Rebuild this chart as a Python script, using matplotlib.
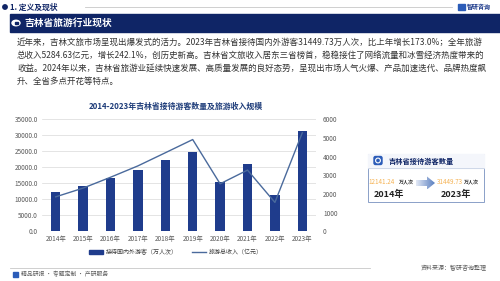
import matplotlib
matplotlib.use('Agg')
import matplotlib.pyplot as plt
import numpy as np
from matplotlib.patches import Rectangle, FancyBboxPatch, Polygon, Circle, Ellipse
from matplotlib.lines import Line2D

plt.rcParams['font.family'] = ['Noto Sans CJK SC', 'DejaVu Sans']

years = ['2014年', '2015年', '2016年', '2017年', '2018年',
         '2019年', '2020年', '2021年', '2022年', '2023年']
visitors = [12141.24, 14131.03, 16578.7, 19241.3, 22156.9,
            24833.0, 15305.0, 21039.0, 11458.0, 31449.73]
revenue = [1846.79, 2315.17, 2897.37, 3507.13, 4210.89,
           4920.38, 2546.0, 3281.28, 1548.0, 5284.63]

visitor_name = '接待国内外游客（万人次）'
revenue_name = '旅游总收入（亿元）'
chart_title = '2014-2023年吉林省接待游客数量及旅游收入规模'
box_title = '吉林省接待游客数量'
first_value, last_value = '12141.24', '31449.73'
first_year, last_year = '2014年', '2023年'

para = [
    '近年来，吉林文旅市场呈现出爆发式的活力。2023年吉林省接待国内外游客31449.73万人次，比上年增长173.0%；全年旅游',
    '总收入5284.63亿元，增长242.1%，创历史新高。吉林省文旅收入居东三省榜首，稳稳接住了网络流量和冰雪经济热度带来的',
    '收益。2024年以来，吉林省旅游业延续快速发展、高质量发展的良好态势，呈现出市场人气火爆、产品加速迭代、品牌热度飙',
    '升、全省多点开花等特点。',
]

NAVY = '#0f2566'
BAR = '#1f3c8c'
LINE = '#4a6a9c'
GRAY = '#595959'

fig = plt.figure(figsize=(5, 2.81), dpi=100)
fig.patch.set_facecolor('white')

# page decoration in pixel coordinates
deco = fig.add_axes([0, 0, 1, 1], zorder=0)
deco.set_xlim(0, 500)
deco.set_ylim(281, 0)
deco.axis('off')

deco.add_patch(Circle((5, 7), 2.2, color=NAVY))
deco.text(10, 7, '1. 定义及现状', fontsize=5.6, fontweight='bold', color=NAVY, va='center')
deco.plot([85, 452], [6.8, 6.8], color='#c8c8c8', lw=0.6)
deco.add_patch(Rectangle((458, 3.5), 7, 6, color='#2b5cb8'))
deco.text(467, 6.5, '智研咨询', fontsize=4.3, fontweight='bold', color='#1f3c8c', va='center')

deco.add_patch(Rectangle((10, 14), 490, 18, color=NAVY))
deco.add_patch(Ellipse((16, 23), 8, 5.5, color='white'))
deco.add_patch(Rectangle((14.5, 21.8), 3, 2.4, color=NAVY))
deco.text(24, 23, '吉林省旅游行业现状', fontsize=7, fontweight='bold', color='white', va='center')

for i, line in enumerate(para):
    deco.text(17, 42 + i * 13, line, fontsize=6.1, color='#333333', va='center')

deco.text(176, 106, chart_title, fontsize=5.7, fontweight='bold', color='#1f3d7a',
          ha='center', va='center')

# infographic box
deco.add_patch(Rectangle((368, 154), 116, 48, fill=False, ec='#8aa0c8', lw=0.7))
deco.add_patch(Rectangle((368, 154), 116, 14, color='#f4f6fb'))
deco.plot([368, 484], [168, 168], color='#c0cbe0', lw=0.5)
deco.add_patch(FancyBboxPatch((374, 156.5), 8, 8, boxstyle='round,pad=0,rounding_size=1.5',
                              color='#2b5cb8'))
deco.add_patch(Circle((378, 160.5), 2.4, fc='none', ec='white', lw=0.8))
deco.text(389, 161, box_title, fontsize=5.2, fontweight='bold', color=NAVY, va='center')
deco.text(368.5, 182, first_value, fontsize=4.5, color='#f5b253', va='center')
deco.text(399, 182.5, '万人次', fontsize=3.6, fontweight='bold', color='#333333', va='center')
deco.text(437, 182, last_value, fontsize=4.5, color='#f5b253', va='center')
deco.text(464, 182.5, '万人次', fontsize=3.6, fontweight='bold', color='#333333', va='center')
deco.text(389, 194, first_year, fontsize=6.5, fontweight='bold', color='#222222',
          ha='center', va='center')
deco.text(456, 194, last_year, fontsize=6.5, fontweight='bold', color='#222222',
          ha='center', va='center')
arrow = Polygon([(416, 180), (427, 180), (427, 176.5), (435, 183), (427, 189.5),
                 (427, 186), (416, 186)], closed=True, fc='none', ec='none')
deco.add_patch(arrow)
grad = np.linspace(0, 1, 64).reshape(1, -1)
im = deco.imshow(grad, extent=(416, 435, 189.5, 176.5), cmap=matplotlib.colors.LinearSegmentedColormap.from_list(
    'g', ['#e3e9f5', '#5a7fc0']), aspect='auto', zorder=2)
im.set_clip_path(arrow)

# footer
deco.plot([10, 370], [268, 268], color='#c8c8c8', lw=0.6)
deco.text(487, 268, '资料来源：智研咨询整理', fontsize=4.3, color=GRAY, ha='right', va='center')
deco.add_patch(Rectangle((13, 271.5), 4.5, 5, color='#2b5cb8'))
deco.text(21, 274, '精品研报 · 专题定制 · 产研服务', fontsize=4.2, color=GRAY, va='center')

# chart
ax = fig.add_axes([0.084, 0.177, 0.548, 0.398], zorder=1)
ax.patch.set_alpha(0)
x = np.arange(len(years))
ax.bar(x, visitors, width=0.34, color=BAR, zorder=2)
ax.set_xlim(-0.5, len(years) - 0.5)
ax.set_ylim(0, 35000)
ax.set_yticks(np.arange(0, 35001, 5000))
ax.set_yticklabels([f'{v:.1f}' for v in np.arange(0, 35001, 5000)])
ax.set_xticks(x)
ax.set_xticklabels(years)
ax.grid(axis='y', color='#d9d9d9', lw=0.5, zorder=0)
for s in ax.spines.values():
    s.set_visible(False)
ax.tick_params(length=0, labelsize=4.6, labelcolor=GRAY, pad=3)

ax2 = ax.twinx()
ax2.plot(x, revenue, color=LINE, lw=1.0, zorder=3)
ax2.set_ylim(0, 6000)
ax2.set_yticks(np.arange(0, 6001, 1000))
for s in ax2.spines.values():
    s.set_visible(False)
ax2.tick_params(length=0, labelsize=4.6, labelcolor=GRAY, pad=5)

handles = [Rectangle((0, 0), 1, 1, color=BAR), Line2D([], [], color=LINE, lw=1.0)]
fig.legend(handles, [visitor_name, revenue_name], loc='center', bbox_to_anchor=(0.352, 0.103),
           ncol=2, frameon=False, fontsize=4.3, handlelength=2.2, handleheight=0.6,
           columnspacing=2.5, handletextpad=0.5, labelcolor='#404040')

fig.savefig('out.png', dpi=100)
